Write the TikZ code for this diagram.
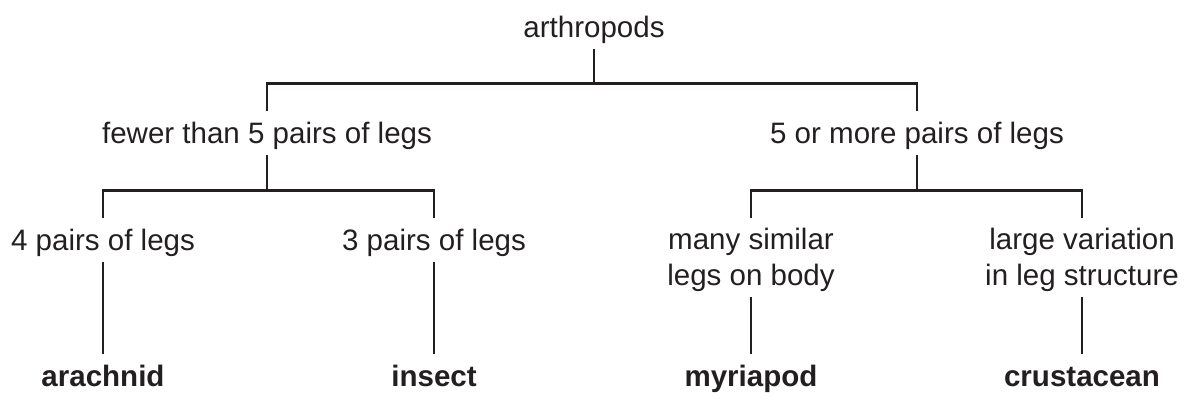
\documentclass[tikz,border=0pt]{standalone}
\usepackage{fontspec}
\setmainfont{Liberation Sans}
\usepackage{xcolor}
\usetikzlibrary{positioning}
\definecolor{inkblack}{HTML}{231F20}

\begin{document}
\begin{tikzpicture}[
    trait/.style={
      font=\fontsize{21pt}{24.9pt}\selectfont, text=inkblack,
      text height=0.65cm, text depth=0.15cm,
      inner xsep=0pt, inner ysep=0.15cm, anchor=base,
    },
    trait2/.style={
      trait, align=center, text height=1.525cm,
    },
    taxon/.style={
      trait, font=\fontsize{21pt}{24.9pt}\selectfont\bfseries,
    },
    branch/.style={
      draw=inkblack, line width=1.9pt,
    },
  ]
  \useasboundingbox (0,0) rectangle (29.8,10.15);

  % =================== Root ===================
  \node[trait] (arth) at (14.85, 9.225) {arthropods};

  % =================== Leg count ===================
  \node[trait] (few) at (6.675, 6.575) {fewer than 5 pairs of legs};
  \node[trait] (more) at (22.925, 6.575) {5 or more pairs of legs};

  \draw[branch] (arth.south) -- ++(0,-0.85) -| (few.north);
  \draw[branch] (arth.south) -- ++(0,-0.85) -| (more.north);

  % =================== Features ===================
  \node[trait] (four) at (2.575, 3.9) {4 pairs of legs};
  \node[trait] (three) at (10.85, 3.9) {3 pairs of legs};
  \node[trait2] (similar) at (18.775, 3.025) {many similar\\legs on body};
  \node[trait2] (variation) at (27.05, 3.025) {large variation\\in leg structure};

  \draw[branch] (few.south) -- ++(0,-0.875) -| (four.north);
  \draw[branch] (few.south) -- ++(0,-0.875) -| (three.north);
  \draw[branch] (more.south) -- ++(0,-0.875) -| (similar.north);
  \draw[branch] (more.south) -- ++(0,-0.875) -| (variation.north);

  % =================== Groups ===================
  \node[taxon] (arach) at (2.575, 0.5) {arachnid};
  \node[taxon] (insect) at (10.85, 0.5) {insect};
  \node[taxon] (myria) at (18.775, 0.5) {myriapod};
  \node[taxon] (crust) at (27.05, 0.5) {crustacean};

  \draw[branch] (four) -- (arach);
  \draw[branch] (three) -- (insect);
  \draw[branch] (similar) -- (myria);
  \draw[branch] (variation) -- (crust);

\end{tikzpicture}
\end{document}
